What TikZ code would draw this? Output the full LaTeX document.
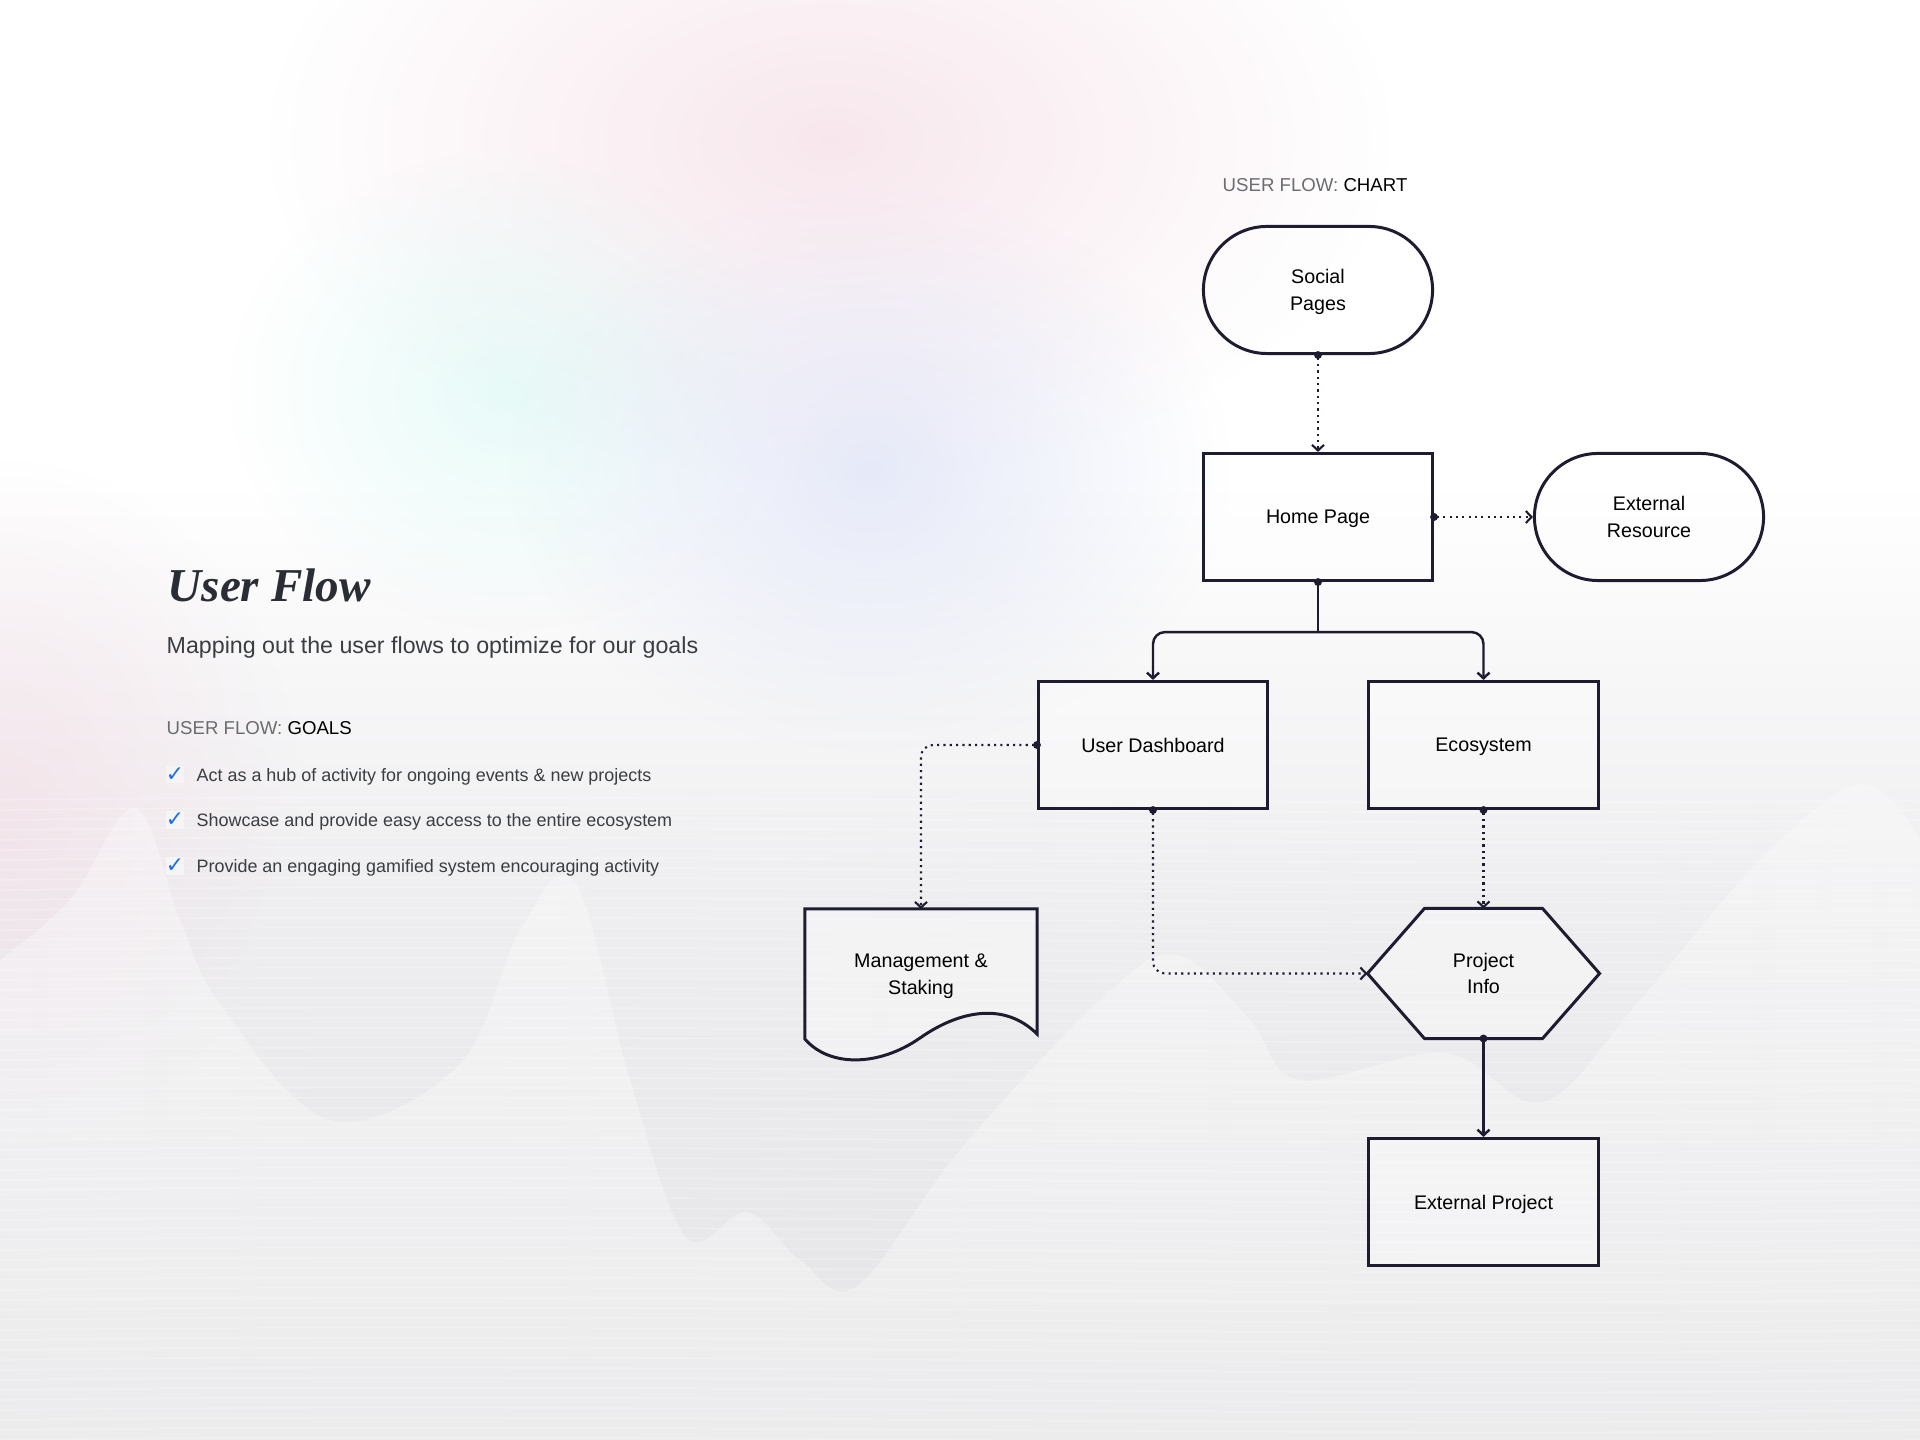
\documentclass[tikz,border=0pt]{standalone}
\usepackage{fontspec}
\setmainfont{Liberation Sans}
\newfontfamily\titlefont{Liberation Serif}
\newfontfamily\symbolfont{DejaVu Sans}
\usetikzlibrary{arrows.meta,calc,fadings,positioning}
\definecolor{ink}{HTML}{1E1C30}
\definecolor{titleink}{HTML}{2A2D33}
\definecolor{bodytext}{HTML}{3A3D42}
\definecolor{labelgray}{HTML}{6A6C70}
\definecolor{checkblue}{HTML}{1E6BF0}
\definecolor{bgbottom}{HTML}{E4E4E6}
\definecolor{bgmid}{HTML}{EEEEF0}
\definecolor{blobpink}{HTML}{F3D8E2}
\definecolor{blobcyan}{HTML}{D0F7F2}
\definecolor{blobblue}{HTML}{DCE1F6}
\tikzfading[name=softblob, inner color=transparent!0, outer color=transparent!100]
\pgfdeclarelayer{page}
\pgfdeclarelayer{shapes}
\pgfsetlayers{page,shapes,main}

\begin{document}
\begin{tikzpicture}[x=0.01cm, y=-0.01cm,
  chartnode/.style={draw=ink, line width=0.85pt, fill=white, fill opacity=0.35, text opacity=1,
    minimum width=2.29cm, minimum height=1.27cm, align=center, text=black, text depth=0pt,
    font=\fontsize{5.6}{7.6}\selectfont},
  process/.style={chartnode},
  terminal/.style={chartnode, rounded corners=0.635cm},
  bare/.style={chartnode, draw=none, fill=none},
  shapeline/.style={draw=ink, line width=0.85pt, fill=white, fill opacity=0.35},
  link/.style={ink, line width=0.7pt},
  dotstart/.style={{Circle[length=2.2pt]}-{Straight Barb[length=1.6pt,width=3.4pt]}, shorten <=-1.1pt},
  arrowonly/.style={-{Straight Barb[length=1.6pt,width=3.4pt]}},
  dotted link/.style={link, line width=0.6pt, dash pattern=on 0.6pt off 1.2pt},
  plain text/.style={anchor=base west, inner sep=0pt},
  checkbox/.style={fill=black!4, inner sep=0pt, minimum size=0.17cm, text=checkblue,
    font=\symbolfont\fontsize{6.2}{6.4}\selectfont}
]
\useasboundingbox (0,0) rectangle (1920,1440);

% page background
\begin{pgfonlayer}{page}
  \fill[white] (0,0) rectangle (1920,1440);
  \fill[top color=white, bottom color=bgmid] (0,480) rectangle (1920,900);
  \fill[top color=bgmid, bottom color=bgbottom] (0,900) rectangle (1920,1440);
  \fill[blobpink, path fading=softblob, opacity=0.6] (830,140) ellipse [x radius=5.6cm, y radius=3.4cm];
  \fill[blobcyan, path fading=softblob, opacity=0.5] (510,390) ellipse [x radius=2.8cm, y radius=2.4cm];
  \fill[blobblue, path fading=softblob, opacity=0.7] (870,470) ellipse [x radius=3.6cm, y radius=2.8cm];
  \fill[blobpink, path fading=softblob, opacity=0.5] (0,800) ellipse [x radius=3cm, y radius=3.4cm];
  % faint mountains
  \fill[white, opacity=0.3] (0,1440) -- plot[smooth, tension=0.6] coordinates {(0,960) (70,900)
    (135,808) (180,920) (220,1004) (330,1120) (459,1065) (520,930) (575,882) (630,1080)
    (686,1237) (747,1212) (800,1260) (857,1286) (960,1150) (1100,1000) (1176,955)
    (1250,1020) (1300,1080) (1445,1053) (1543,1102) (1640,1000) (1760,860) (1861,784)
    (1920,840)} -- (1920,1440) -- cycle;
  \foreach \y in {800,810,...,1440}
    \draw[white, opacity=0.25, line width=0.4pt] (0,\y) .. controls (640,\y-8) and (1280,\y+8) .. (1920,\y);
\end{pgfonlayer}

% left column text
\node[plain text, text=titleink, font=\titlefont\bfseries\itshape\fontsize{13.4}{16}\selectfont]
  (title) at (167,602) {User Flow};
\node[plain text, text=bodytext, font=\fontsize{6.6}{7.6}\selectfont]
  (subtitle) at (166,654) {Mapping out the user flows to optimize for our goals};
\node[plain text, font=\fontsize{5.3}{6.4}\selectfont]
  (goalshead) at (166,735) {\textcolor{labelgray}{USER FLOW:} GOALS};
\foreach \y/\goal [count=\i] in {782/Act as a hub of activity for ongoing events \& new projects,
    827/Showcase and provide easy access to the entire ecosystem,
    873/Provide an engaging gamified system encouraging activity} {
  \node[checkbox] (check\i) at (175,\y-7) {✓};
  \node[plain text, text=bodytext, font=\fontsize{5.1}{6.4}\selectfont] (goal\i) at (196,\y) {\goal};
}

% chart
\node[plain text, font=\fontsize{5.3}{6.4}\selectfont]
  (charthead) at (1222,192) {\textcolor{labelgray}{USER FLOW:} CHART};

\node[terminal] (social) at (1318,290) {Social\\Pages};
\node[process] (home) at (1318,517) {Home Page};
\node[terminal] (extres) at (1649,517) {External\\Resource};
\node[process] (dash) at (1153,745) {User Dashboard};
\node[process] (eco) at (1483.5,745) {Ecosystem};
\node[bare] (manage) at (921,974) {Management \&\\Staking};
\node[bare] (proj) at (1483.5,973.5) {Project\\Info};
\node[process] (extproj) at (1483.5,1202) {External Project};
\coordinate[below=0.5cm of home] (split);

\begin{pgfonlayer}{shapes}
  % document shape
  \draw[shapeline] (manage.south west) -- (manage.north west) -- (manage.north east)
    -- ($(manage.south east)+(0,-5)$) .. controls (1005,1002) and (960,1010) .. (920,1038)
    .. controls (880,1066) and (830,1068) .. (manage.south west) -- cycle;
  % hexagon
  \draw[shapeline] (proj.west) -- ($(proj.north west)+(57,0)$) -- ($(proj.north east)+(-57,0)$)
    -- (proj.east) -- ($(proj.south east)+(-57,0)$) -- ($(proj.south west)+(57,0)$) -- cycle;
\end{pgfonlayer}

\draw[dotted link, dotstart] (social.south) -- (home.north);
\draw[dotted link, dotstart] (home.east) -- (extres.west);
\draw[link, {Circle[length=2.2pt]}-, shorten <=-1.1pt] (home.south) -- (split);
\draw[link, arrowonly, rounded corners=0.12cm] (split) -| (dash.north);
\draw[link, arrowonly, rounded corners=0.12cm] (split) -| (eco.north);
\draw[dotted link, dotstart, rounded corners=0.12cm] (dash.west) -| (manage.north);
\draw[dotted link, dotstart, rounded corners=0.12cm] (dash.south) |- (proj.west);
\draw[dotted link, dotstart] (eco.south) -- (proj.north);
\draw[link, dotstart] (proj.south) -- (extproj.north);
\end{tikzpicture}
\end{document}
